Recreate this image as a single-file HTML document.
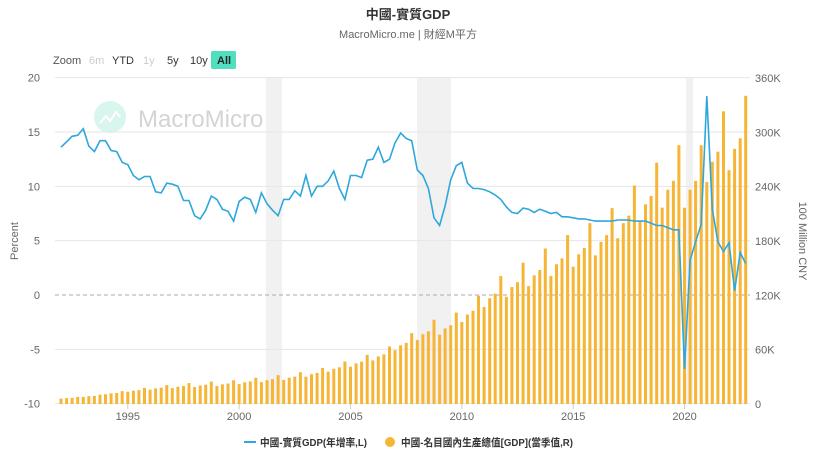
<!DOCTYPE html>
<html><head><meta charset="utf-8"><style>
body{margin:0;background:#fff;font-family:"Liberation Sans","Noto Sans CJK TC",sans-serif;}
svg text{font-family:"Liberation Sans","Noto Sans CJK TC",sans-serif;}
</style></head><body>
<svg id="c" width="816" height="455" xmlns="http://www.w3.org/2000/svg">
<rect width="816" height="455" fill="#fff"/>
<text x="408" y="19" text-anchor="middle" font-size="13" font-weight="bold" fill="#333">中國-實質GDP</text>
<text x="408" y="38" text-anchor="middle" font-size="11" fill="#666">MacroMicro.me | 財經M平方</text>
<g font-size="11">
<text x="53" y="64" fill="#555">Zoom</text>
<text x="89" y="64" fill="#ccc">6m</text>
<text x="112" y="64" fill="#333">YTD</text>
<text x="143" y="64" fill="#ccc">1y</text>
<text x="167" y="64" fill="#333">5y</text>
<text x="190" y="64" fill="#333">10y</text>
<rect x="211" y="51" width="25" height="18" rx="2" fill="#4fdfbf"/>
<text x="217" y="64" fill="#222" font-weight="bold">All</text>
</g>
<rect x="266" y="78" width="16" height="326" fill="#f1f1f1"/>
<rect x="417" y="78" width="34" height="326" fill="#f1f1f1"/>
<rect x="686" y="78" width="7" height="326" fill="#f1f1f1"/>
<circle cx="110" cy="117" r="16" fill="#d8f5ee"/>
<polyline points="100,123 106,116 110,121 116,112 120,117" fill="none" stroke="#fff" stroke-width="2"/>
<text x="138" y="127" font-size="24" fill="#d4d4d4">MacroMicro</text>
<g id="grid"></g>
<g id="bars"></g>
<polyline id="ln" fill="none" stroke="#2ea7dc" stroke-width="1.6"/>
<g id="ax" font-size="11" fill="#666"></g>
<text transform="translate(18,241) rotate(-90)" text-anchor="middle" font-size="11" fill="#666">Percent</text>
<text transform="translate(799,241) rotate(90)" text-anchor="middle" font-size="11" fill="#666">100 Million CNY</text>
<line x1="244" y1="442" x2="256" y2="442" stroke="#2ea7dc" stroke-width="2"/>
<text x="260" y="446" font-size="10.5" font-weight="bold" fill="#333" textLength="107" lengthAdjust="spacingAndGlyphs">中國-實質GDP(年增率,L)</text>
<circle cx="390" cy="442" r="5" fill="#f7b536"/>
<text x="401" y="446" font-size="10.5" font-weight="bold" fill="#333" textLength="172" lengthAdjust="spacingAndGlyphs">中國-名目國內生產總值[GDP](當季值,R)</text>
</svg>
<script>
var NS="http://www.w3.org/2000/svg";
function el(t,a,p,txt){var e=document.createElementNS(NS,t);for(var k in a)e.setAttribute(k,a[k]);if(txt!=null)e.textContent=txt;document.getElementById(p).appendChild(e);return e;}
function yL(v){return 295-v*10.867;}
function yR(v){return 404-v/360*326;}
for(var v=-10;v<=20;v+=5){var y=yL(v);
 if(v==0)el("line",{x1:55,x2:750,y1:y,y2:y,stroke:"#aaa","stroke-dasharray":"4,3"},"grid");
 else el("line",{x1:55,x2:750,y1:y,y2:y,stroke:"#e6e6e6"},"grid");
 el("text",{x:40,y:y+4,"text-anchor":"end"},"ax",""+v);}
for(var r=0;r<=360;r+=60){el("text",{x:755,y:yR(r)+4},"ax",r==0?"0":r+"K");}
for(var yr=1995;yr<=2020;yr+=5){var x=61+(yr-1992)*22.27;el("text",{x:x,y:420,"text-anchor":"middle"},"ax",""+yr);el("line",{x1:x,x2:x,y1:404,y2:409,stroke:"#ccc"},"grid");}
var g=[13.6,14.1,14.6,14.7,15.3,13.7,13.2,14.2,14.2,13.3,13.2,12.2,12.0,11.0,10.6,10.9,10.9,9.5,9.4,10.3,10.2,10.0,8.7,8.7,7.3,7.0,7.8,9.1,8.8,7.9,7.7,6.8,8.6,9.0,8.8,7.6,9.4,8.4,7.8,7.3,8.8,8.8,9.6,9.1,11.0,9.1,10.0,10.0,10.5,11.4,9.8,8.8,11.0,11.0,10.8,12.4,12.5,13.6,12.2,12.5,14.0,14.9,14.4,14.2,11.5,11.0,9.8,7.1,6.4,8.2,10.6,11.9,12.2,10.3,9.8,9.8,9.7,9.5,9.2,8.8,8.1,7.6,7.5,8.0,7.9,7.6,7.9,7.7,7.5,7.6,7.2,7.2,7.1,7.0,7.0,6.9,6.8,6.8,6.8,6.8,6.9,6.9,6.9,6.8,6.8,6.8,6.6,6.4,6.4,6.2,6.0,6.0,-6.8,3.2,4.9,6.5,18.3,7.9,4.9,4.0,4.8,0.4,3.9,2.9];
var A=[27.2,35.7,48.6,61.3,71.8,79.7,85.2,90.6,100,110,121,137,162,187,219,270,321,348,412,487,538,592,643,689,746,832,919,986,1016,1149,1210];
var sh=[0.22,0.24,0.25,0.29];
var pts=[];
for(var i=0;i<124;i++){var x=61+i*5.567;pts.push(x.toFixed(1)+","+yL(g[i]).toFixed(1));
 var val=A[Math.floor(i/4)]*sh[i%4];if(i>=124-12)val*=0.97;var yt=yR(val);
 el("rect",{x:(x-1.5).toFixed(1),y:yt.toFixed(1),width:3,height:(404-yt).toFixed(1),fill:"#f7b536"},"bars");}
document.getElementById("ln").setAttribute("points",pts.join(" "));
</script>
</body></html>
